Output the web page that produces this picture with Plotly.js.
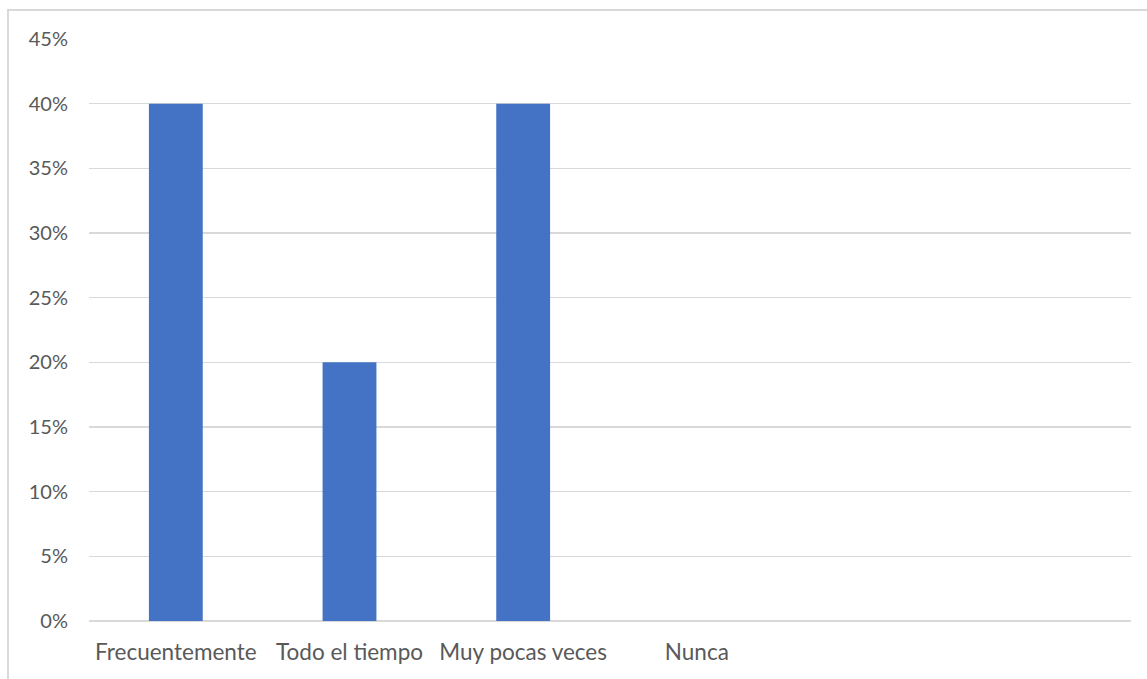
<!DOCTYPE html>
<html>
<head>
<meta charset="utf-8">
<script src="https://cdn.plot.ly/plotly-3.0.1.min.js"></script>
<style>
html,body{margin:0;padding:0;background:#fff;overflow:hidden;}
#frame{position:absolute;left:7px;top:9px;width:1150px;height:680px;border:2px solid #d9d9d9;box-sizing:border-box;}
#chart{position:absolute;left:0;top:0;width:1147px;height:679px;}
</style>
</head>
<body>
<div id="frame"></div>
<div id="chart"></div>
<script>
const categories = ["Frecuentemente", "Todo el tiempo", "Muy pocas veces", "Nunca", " ", "  "];
const values = [0.40, 0.20, 0.40, 0, null, null];
const yTickValues = [0, 0.05, 0.10, 0.15, 0.20, 0.25, 0.30, 0.35, 0.40, 0.45];
const yTickLabels = ["0%", "5%", "10%", "15%", "20%", "25%", "30%", "35%", "40%", "45%"];

const fontFamily = "Lato, 'Open Sans', sans-serif";

Plotly.newPlot("chart", [{
  type: "bar",
  x: categories,
  y: values,
  marker: {color: "#4472c4"},
  hoverinfo: "skip"
}], {
  width: 1147,
  height: 679,
  margin: {l: 89, r: 16, t: 39, b: 58},
  paper_bgcolor: "rgba(0,0,0,0)",
  plot_bgcolor: "rgba(0,0,0,0)",
  bargap: 0.69,
  showlegend: false,
  font: {family: fontFamily, size: 20, color: "#595959"},
  xaxis: {
    type: "category",
    categoryorder: "array",
    categoryarray: categories,
    showgrid: false,
    showline: false,
    zeroline: false,
    ticks: "",
    ticklabelstandoff: 15,
    tickfont: {family: fontFamily, size: 22.5, color: "#595959"}
  },
  yaxis: {
    range: [0, 0.45],
    tickvals: yTickValues,
    ticktext: yTickLabels,
    showgrid: true,
    gridcolor: "#d9d9d9",
    gridwidth: 1.5,
    zeroline: true,
    zerolinecolor: "#d9d9d9",
    zerolinewidth: 1.5,
    showline: false,
    ticks: "",
    ticklabelstandoff: 20,
    tickfont: {family: fontFamily, size: 20, color: "#595959"}
  }
}, {displayModeBar: false, staticPlot: true});
</script>
</body>
</html>
